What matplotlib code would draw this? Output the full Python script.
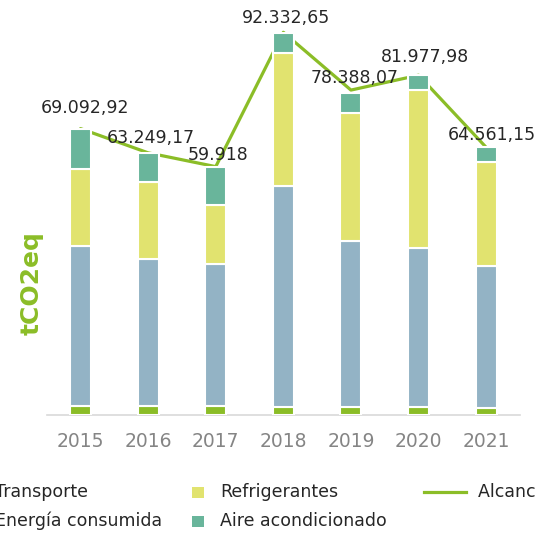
import matplotlib
matplotlib.use("Agg")
import matplotlib.pyplot as plt
from matplotlib.patches import Rectangle
from matplotlib.lines import Line2D
import numpy as np

# --- data (tCO2eq, thousands) ---
years = ["2015", "2016", "2017", "2018", "2019", "2020", "2021"]
transporte = [2.29, 2.29, 2.25, 1.86, 1.86, 1.86, 1.60]
energia = [38.40, 35.35, 34.26, 53.40, 40.05, 38.50, 34.40]
refrigerantes = [18.70, 18.46, 14.23, 32.00, 30.90, 38.00, 24.95]
aire = [9.65, 7.17, 9.19, 5.00, 4.80, 3.64, 3.60]
totales = [69092.92, 63249.17, 59918.0, 92332.65, 78388.07, 81977.98, 64561.15]
total_labels = ["69.092,92", "63.249,17", "59.918", "92.332,65",
                "78.388,07", "81.977,98", "64.561,15"]

series_names = ["Transporte", "Energía consumida", "Refrigerantes",
                "Aire acondicionado"]
line_name = "Alcance 1 y 2"

# --- style ---
C_TRANS = "#8bbd27"
C_ENER = "#93b3c5"
C_REFR = "#e1e36f"
C_AIRE = "#69b59b"
C_LINE = "#8bbd27"
TXT = "#262626"
FONT = "DejaVu Sans"

W, H = 535, 533
fig = plt.figure(figsize=(W / 100, H / 100), dpi=100)
ax = fig.add_axes([46.7 / W, (H - 415) / H, 473.3 / W, 414.5 / H])

x = np.arange(len(years))
stack = [np.array(s) * 1000 for s in (transporte, energia, refrigerantes, aire)]
colors = [C_TRANS, C_ENER, C_REFR, C_AIRE]
bottom = np.zeros(len(years))
for vals, col in zip(stack, colors):
    ax.bar(x, vals, width=0.31, bottom=bottom, color=col,
           edgecolor="white", linewidth=1.5, zorder=3)
    bottom += vals

ax.plot(x, totales, color=C_LINE, linewidth=2.3, zorder=2,
        solid_capstyle="round")

# value labels above each total (small nudges in pixels)
label_nudge = [(4.5, 16), (2.5, 10), (2, 6.6), (2.5, 9), (3.5, 7), (6.5, 13), (6, 7.4)]
for xi, tot, lab, (dx, dy) in zip(x, totales, total_labels, label_nudge):
    ax.annotate(lab, (xi, tot), xytext=(dx * 0.72, dy * 0.72),
                textcoords="offset points", ha="center", va="baseline",
                fontsize=12.5, color=TXT, family=FONT, zorder=5,
                annotation_clip=False)

ax.set_xlim(-0.5, 6.5)
ax.set_ylim(0, 100000)
ax.set_xticks(x)
ax.set_xticklabels(years, fontsize=13.5, color="#858585", family=FONT)
ax.tick_params(axis="x", length=0, pad=12)
ax.set_yticks([])
for side in ("top", "right", "left"):
    ax.spines[side].set_visible(False)
ax.spines["bottom"].set_color("#d9d9d9")
ax.spines["bottom"].set_linewidth(1.2)
ax.patch.set_alpha(0)

fig.text(32 / W, 1 - 283 / H, "tCO2eq", rotation=90, ha="center", va="center",
         fontsize=18, fontweight="bold", color=C_LINE, family=FONT)


# --- legend drawn in figure pixel coordinates ---
def fx(px):
    return px / W


def fy(py):
    return 1 - py / H


def square(px, py_center, col):
    fig.add_artist(Rectangle((fx(px), fy(py_center + 5.5)), 12 / W, 11 / H,
                             transform=fig.transFigure, color=col, lw=0))


def label(px, py_center, text):
    fig.text(fx(px), fy(py_center), text, ha="left", va="center",
             fontsize=12.5, color=TXT, family=FONT)


row1, row2 = 492, 521
square(-32, row1, C_TRANS)
label(-5, row1, series_names[0])
square(-32, row2, C_ENER)
label(-5, row2, series_names[1])
square(192, row1, C_REFR)
label(220, row1, series_names[2])
square(192, row2, C_AIRE)
label(220, row2, series_names[3])
fig.add_artist(Line2D([fx(424), fx(466)], [fy(row1), fy(row1)],
                      transform=fig.transFigure, color=C_LINE, lw=2.3))
label(478, row1, line_name)

fig.savefig("out.png", dpi=100)
